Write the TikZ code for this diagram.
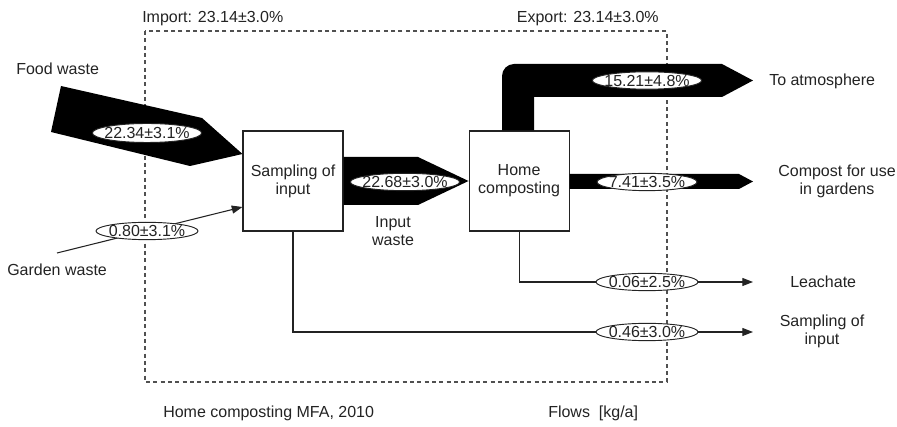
\documentclass[tikz,border=0pt]{standalone}
\usepackage{fontspec}
\setmainfont{Liberation Sans}
\usetikzlibrary{arrows.meta,positioning,shapes.geometric,calc}
\definecolor{MFAink}{RGB}{35,35,35}
\definecolor{MFAgrey}{RGB}{80,80,80}
\newcommand{\fv}[1]{\makebox[0pt]{#1}}

\begin{document}
\begin{tikzpicture}[x=0.75pt,y=-0.75pt,node distance=93.75pt,
  every node/.style={font=\fontsize{12}{13.5}\selectfont,text=MFAink},
  b/.style={draw=MFAink,line width=0.8pt,fill=white,minimum width=75pt,minimum height=75pt,align=center,inner sep=0pt},
  v/.style={ellipse,draw=MFAink,line width=0.7pt,fill=white,inner sep=0pt,minimum width=#1,minimum height=13pt},
  v/.default=76.5pt,
  t/.style={align=center,inner sep=0pt},
  fr/.style={draw=MFAgrey,line width=0.8pt,dash pattern=on 3pt off 2.5pt},
  a/.style={draw=MFAink,line width=0.8pt,-{Triangle[length=8pt,width=6pt]}}]
\useasboundingbox (0,0) rectangle (897,427);
\draw[fr] (145,31) rectangle (667,382);
\node[b] (samp) at (293,181) {Sampling of\\input};
\node[b,right=of samp] (home) {Home\\composting};
\fill (61,86) -- (202,118) -- (samp.west |- 0,154) -- (190,166) -- (51,132) -- cycle;
\fill (samp.east |- 0,157) -- (418,157) -- (home.west) -- (418,205) -- (samp.east |- 0,205) -- cycle;
\fill (home.north -| 502,0) -- (502,76) .. controls (502,69.4) and (507.4,64) .. (514,64) -- (722,64) -- (753,80.5) -- (722,97) -- (534,97) -- (home.north -| 534,0) -- cycle;
\fill (home.east |- 0,174) -- (739,174) -- (753,181.5) -- (739,189) -- (home.east |- 0,189) -- cycle;
\coordinate (gw) at (57,253);
\coordinate (lea) at (753,282);
\coordinate (sout) at (753,332);
\draw[a] (gw) -- (samp.west |- 0,207);
\draw[a] (home.south) |- (lea);
\draw[a] (samp.south) |- (sout);
\node[v=82pt,minimum height=14.25pt] (fw) at (147,133) {\fv{22.34±3.1\%}};
\node[v] (gv) at (147,231) {\fv{0.80±3.1\%}};
\node[v=82pt] (iw) at (405,182) {\fv{22.68±3.0\%}};
\node[v=82pt] (atm) at (647,80.5) {\fv{15.21±4.8\%}};
\node[v=75pt] (cp) at (647,182) {\fv{7.41±3.5\%}};
\node[v] (lv) at (647,282) {\fv{0.06±2.5\%}};
\node[v] (sv) at (647,332) {\fv{0.46±3.0\%}};
\node[t,anchor=west] (imp) at (142,19) {Import: 23.14±3.0\%};
\node[t,anchor=east] (exp) at (659,19) {Export: 23.14±3.0\%};
\node[t,anchor=west] (food) at (16,69) {Food waste};
\node[t,anchor=west] (gard) at (7,270) {Garden waste};
\node[t] (inw) at (393,231.5) {Input\\waste};
\node[t,anchor=west] (atxt) at (769,81) {To atmosphere};
\node[t,font=\fontsize{12}{14}\selectfont] (comp) at (837,181.5) {Compost for use\\in gardens};
\node[t,anchor=west] (leach) at (790,282) {Leachate};
\node[t] (samptxt) at (822,331.5) {Sampling of\\input};
\node[t,anchor=west] (title) at (163,413) {Home composting MFA, 2010};
\node[t,anchor=west] (unit) at (548,413) {Flows\ \ [kg/a]};
\end{tikzpicture}
\end{document}
